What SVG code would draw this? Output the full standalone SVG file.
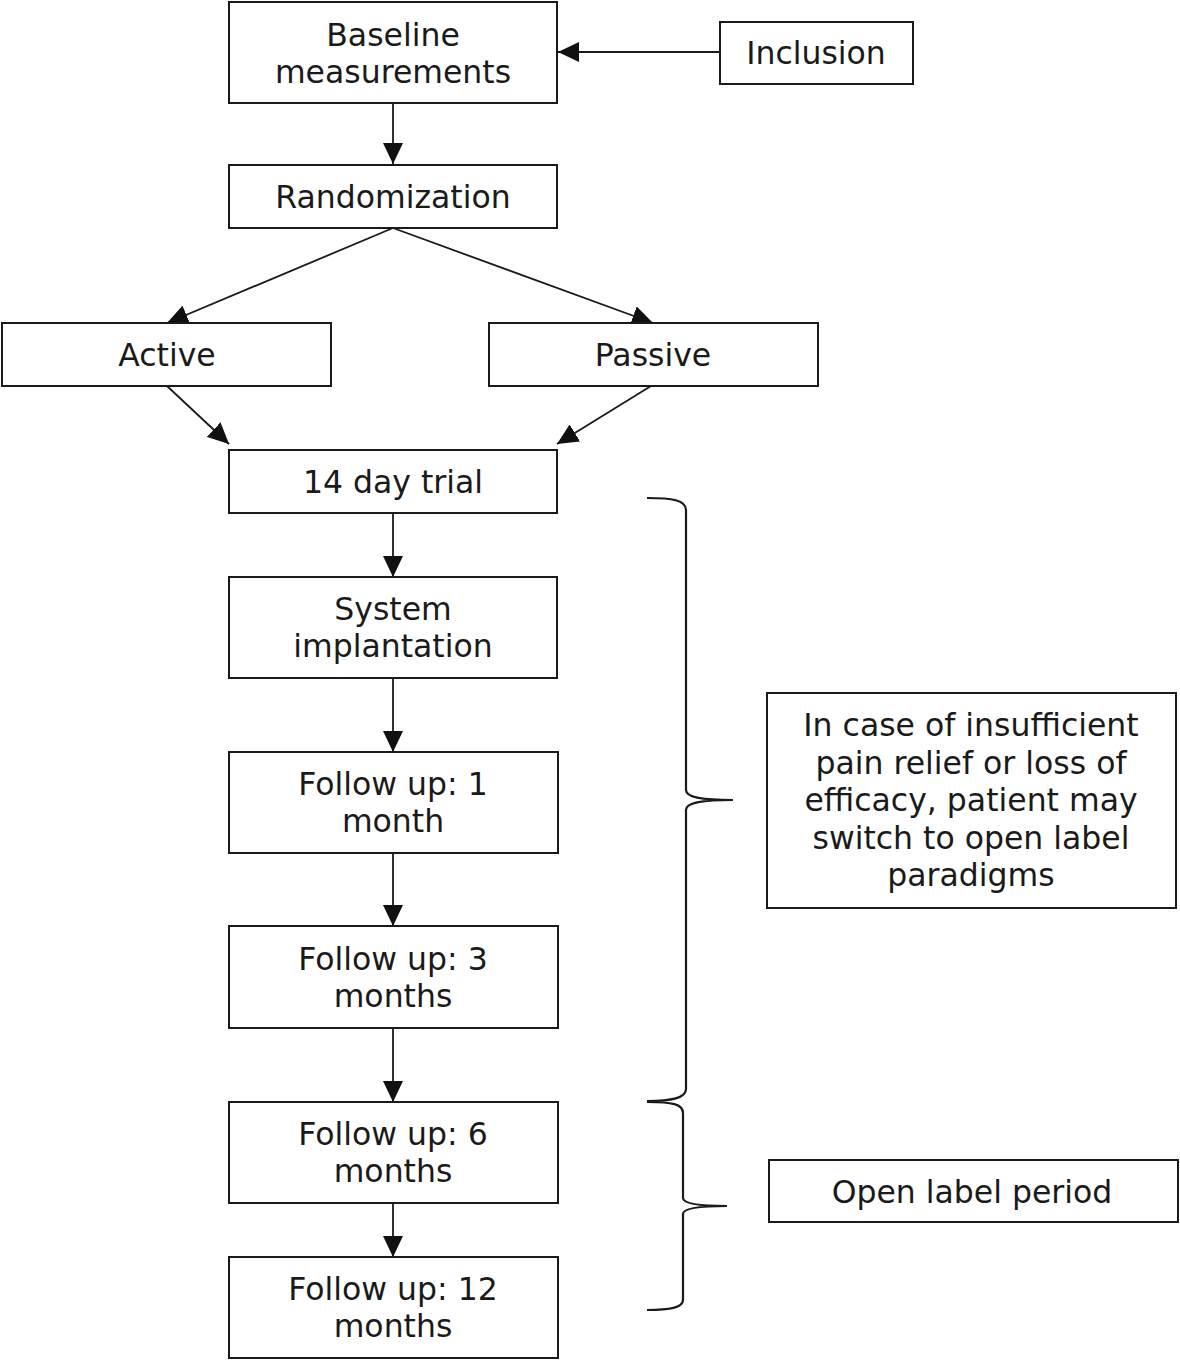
<svg xmlns="http://www.w3.org/2000/svg" width="1180" height="1361" viewBox="0 0 1180 1361">
<style>
.box{fill:#fff;stroke:#1a1a1a;stroke-width:2}
.t{font-family:"DejaVu Sans","Verdana",sans-serif;font-size:31.5px;fill:#1a1a1a;text-anchor:middle}
.c{stroke:#1a1a1a;stroke-width:1.8;fill:none}
.br{stroke:#1a1a1a;stroke-width:2.2;fill:none}
</style>
<defs>
<marker id="ah" markerUnits="userSpaceOnUse" markerWidth="22" markerHeight="20" refX="21" refY="10" orient="auto">
<path d="M0,0 L21,10 L0,20 Z" fill="#111"/>
</marker>
</defs>
<rect width="1180" height="1361" fill="#fff"/>
<g id="connectors">
<line class="c" x1="720" y1="52" x2="558" y2="52" marker-end="url(#ah)"/>
<line class="c" x1="393" y1="103" x2="393" y2="164" marker-end="url(#ah)"/>
<line class="c" x1="393" y1="228" x2="167" y2="323" marker-end="url(#ah)"/>
<line class="c" x1="393" y1="228" x2="653" y2="323" marker-end="url(#ah)"/>
<line class="c" x1="167" y1="386" x2="229" y2="444" marker-end="url(#ah)"/>
<line class="c" x1="651" y1="386" x2="557" y2="444" marker-end="url(#ah)"/>
<line class="c" x1="393" y1="513" x2="393" y2="577" marker-end="url(#ah)"/>
<line class="c" x1="393" y1="678" x2="393" y2="752" marker-end="url(#ah)"/>
<line class="c" x1="393" y1="853" x2="393" y2="926" marker-end="url(#ah)"/>
<line class="c" x1="393" y1="1028" x2="393" y2="1102" marker-end="url(#ah)"/>
<line class="c" x1="393" y1="1203" x2="393" y2="1257" marker-end="url(#ah)"/>
</g>
<g id="braces">
<path class="br" d="M647,498 C672,498 686,500 686,510 L686,790 C686,797 700,800 733,800 C700,800 686,803 686,810 L686,1089 C686,1098 672,1101 647,1101"/>
<path class="br" d="M647,1102 C672,1102 683,1104 683,1113 L683,1198 C683,1203 695,1206 727,1206 C695,1206 683,1209 683,1214 L683,1300 C683,1307 672,1310 647,1310"/>
</g>
<g id="n-baseline"><rect class="box" x="229" y="2" width="328" height="101"/><text class="t" x="393" y="46">Baseline</text><text class="t" x="393" y="83">measurements</text></g>
<g id="n-inclusion"><rect class="box" x="720" y="22" width="193" height="62"/><text class="t" x="816" y="64">Inclusion</text></g>
<g id="n-random"><rect class="box" x="229" y="165" width="328" height="63"/><text class="t" x="393" y="208">Randomization</text></g>
<g id="n-active"><rect class="box" x="2" y="323" width="329" height="63"/><text class="t" x="167" y="366">Active</text></g>
<g id="n-passive"><rect class="box" x="489" y="323" width="329" height="63"/><text class="t" x="653" y="366">Passive</text></g>
<g id="n-trial"><rect class="box" x="229" y="450" width="328" height="63"/><text class="t" x="393" y="493">14 day trial</text></g>
<g id="n-system"><rect class="box" x="229" y="577" width="328" height="101"/><text class="t" x="393" y="620">System</text><text class="t" x="393" y="657">implantation</text></g>
<g id="n-fu1"><rect class="box" x="229" y="752" width="329" height="101"/><text class="t" x="393" y="795">Follow up: 1</text><text class="t" x="393" y="832">month</text></g>
<g id="n-fu3"><rect class="box" x="229" y="926" width="329" height="102"/><text class="t" x="393" y="970">Follow up: 3</text><text class="t" x="393" y="1007">months</text></g>
<g id="n-fu6"><rect class="box" x="229" y="1102" width="329" height="101"/><text class="t" x="393" y="1145">Follow up: 6</text><text class="t" x="393" y="1182">months</text></g>
<g id="n-fu12"><rect class="box" x="229" y="1257" width="329" height="101"/><text class="t" x="393" y="1300">Follow up: 12</text><text class="t" x="393" y="1337">months</text></g>
<g id="n-incase"><rect class="box" x="767" y="693" width="409" height="215"/>
<text class="t" x="971" y="736">In case of insufficient</text>
<text class="t" x="971" y="774">pain relief or loss of</text>
<text class="t" x="971" y="811">efficacy, patient may</text>
<text class="t" x="971" y="849">switch to open label</text>
<text class="t" x="971" y="886">paradigms</text></g>
<g id="n-openlabel"><rect class="box" x="769" y="1160" width="409" height="62"/><text class="t" x="972" y="1203">Open label period</text></g>
</svg>
